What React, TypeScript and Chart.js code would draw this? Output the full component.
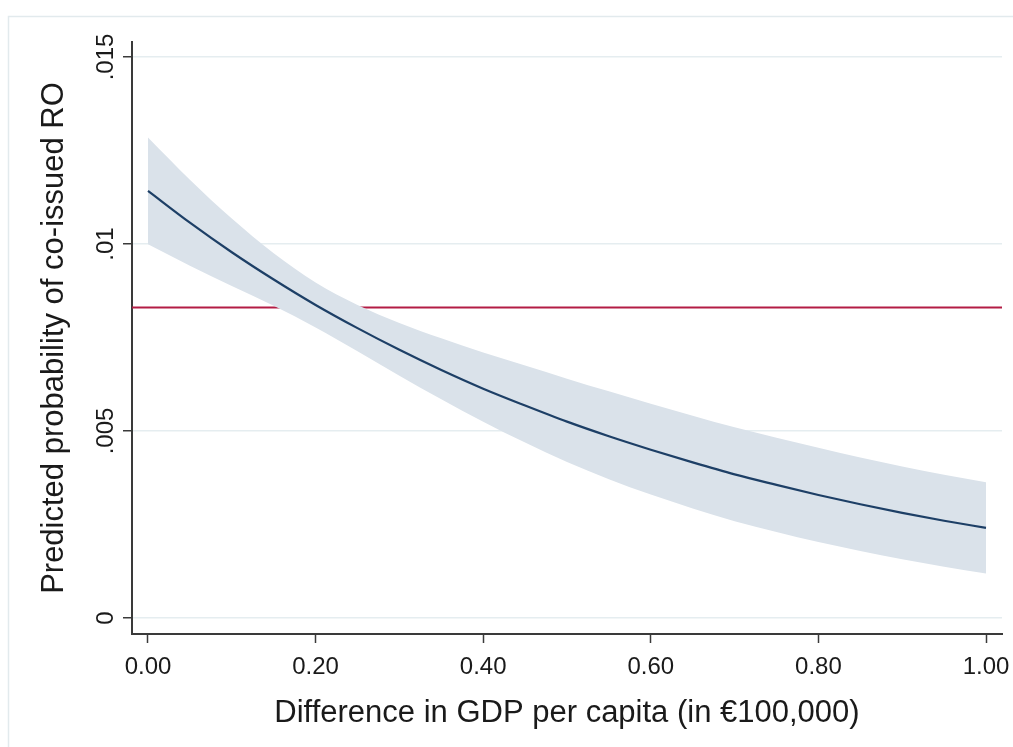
import React, { useEffect, useRef } from "react";
import { Chart, registerables } from "chart.js";

Chart.register(...registerables);

// ---- data ----
const xValues = [0, 0.05, 0.1, 0.15, 0.2, 0.25, 0.3, 0.35, 0.4, 0.45, 0.5, 0.55, 0.6, 0.65, 0.7, 0.75, 0.8, 0.85, 0.9, 0.95, 1.0];
const predicted = [0.01142, 0.01057, 0.00978, 0.00905, 0.00837, 0.00775, 0.00717, 0.00663, 0.00613, 0.00568, 0.00525, 0.00486, 0.0045, 0.00416, 0.00384, 0.00356, 0.00329, 0.00304, 0.00281, 0.0026, 0.00241];
const ciUpper = [0.01285, 0.01172, 0.01068, 0.00975, 0.00897, 0.00837, 0.00789, 0.00748, 0.0071, 0.00675, 0.0064, 0.00606, 0.00573, 0.00541, 0.0051, 0.00482, 0.00455, 0.00429, 0.00405, 0.00383, 0.00363];
const ciLower = [0.00999, 0.00942, 0.00888, 0.00835, 0.00777, 0.00713, 0.00648, 0.00585, 0.00525, 0.00469, 0.00417, 0.00371, 0.0033, 0.00293, 0.00259, 0.0023, 0.00203, 0.00179, 0.00157, 0.00137, 0.00119];
const referenceLevel = 0.0083;

const xTickValues = [0, 0.2, 0.4, 0.6, 0.8, 1.0];
const xTickLabels = ["0.00", "0.20", "0.40", "0.60", "0.80", "1.00"];
const yTickValues = [0, 0.005, 0.01, 0.015];
const yTickLabels = ["0", ".005", ".01", ".015"];

const xTitle = "Difference in GDP per capita (in €100,000)";
const yTitle = "Predicted probability of co-issued RO";

const X_MIN = -0.01909;
const X_MAX = 1.01909;
const Y_MIN = -0.000428;
const Y_MAX = 0.015401;

const FONT = "'Liberation Sans', Arial, Helvetica, sans-serif";

export default function App() {
  const canvasRef = useRef<HTMLCanvasElement | null>(null);

  useEffect(() => {
    const canvas = canvasRef.current;
    if (!canvas) return;

    const outerFrame = {
      id: "outerFrame",
      beforeDraw(chart: any) {
        const ctx = chart.ctx;
        ctx.save();
        ctx.fillStyle = "#ffffff";
        ctx.fillRect(0, 0, chart.width, chart.height);
        ctx.strokeStyle = "#e2eaed";
        ctx.lineWidth = 1.5;
        ctx.strokeRect(8.5, 16.5, chart.width + 50, chart.height + 50);
        ctx.restore();
      },
    };

    const yLabels = {
      id: "yLabels",
      afterDraw(chart: any) {
        const ctx = chart.ctx;
        const ys = chart.scales.y;
        const left = chart.chartArea.left;
        ctx.save();
        ctx.fillStyle = "#1a1a1a";
        ctx.font = `24px ${FONT}`;
        ctx.textAlign = "center";
        ctx.textBaseline = "alphabetic";
        yTickValues.forEach((v, i) => {
          const py = ys.getPixelForValue(v);
          ctx.save();
          ctx.translate(left - 19, py);
          ctx.rotate(-Math.PI / 2);
          ctx.fillText(yTickLabels[i], 0, 0);
          ctx.restore();
        });
        ctx.restore();
      },
    };

    const chart = new Chart(canvas, {
      type: "line",
      data: {
        datasets: [
          {
            label: "Predicted",
            data: xValues.map((x, i) => ({ x, y: predicted[i] })),
            borderColor: "#1d3f66",
            borderWidth: 2.2,
            pointRadius: 0,
            fill: false,
            cubicInterpolationMode: "monotone",
            order: 1,
          },
          {
            label: "Upper",
            data: xValues.map((x, i) => ({ x, y: ciUpper[i] })),
            borderColor: "rgba(0,0,0,0)",
            borderWidth: 0,
            backgroundColor: "#dae2ea",
            pointRadius: 0,
            fill: "+1",
            cubicInterpolationMode: "monotone",
            order: 2,
          },
          {
            label: "Lower",
            data: xValues.map((x, i) => ({ x, y: ciLower[i] })),
            borderColor: "rgba(0,0,0,0)",
            borderWidth: 0,
            pointRadius: 0,
            fill: false,
            cubicInterpolationMode: "monotone",
            order: 3,
          },
          {
            label: "Reference",
            data: [
              { x: X_MIN, y: referenceLevel },
              { x: X_MAX, y: referenceLevel },
            ],
            borderColor: "#b31c45",
            borderWidth: 2,
            pointRadius: 0,
            fill: false,
            order: 4,
          },
        ],
      },
      options: {
        animation: false,
        responsive: false,
        maintainAspectRatio: false,
        devicePixelRatio: 1,
        layout: { padding: { left: 0, right: 11, top: 42, bottom: 0 } },
        plugins: {
          legend: { display: false },
          tooltip: { enabled: false },
        },
        scales: {
          x: {
            type: "linear",
            min: X_MIN,
            max: X_MAX,
            afterBuildTicks: (scale: any) => {
              scale.ticks = xTickValues.map((v) => ({ value: v }));
            },
            afterFit: (scale: any) => {
              scale.height = 113;
              scale.paddingLeft = 0;
              scale.paddingRight = 0;
            },
            ticks: {
              callback: (_v: any, i: number) => xTickLabels[i],
              font: { family: FONT, size: 24 },
              color: "#1a1a1a",
              padding: 10,
              maxRotation: 0,
              minRotation: 0,
              autoSkip: false,
            },
            grid: {
              drawOnChartArea: false,
              drawTicks: true,
              tickLength: 9,
              tickColor: "#3a3a3a",
              tickWidth: 1.5,
            },
            border: { display: true, color: "#3a3a3a", width: 2 },
            title: {
              display: true,
              text: xTitle,
              font: { family: FONT, size: 31 },
              color: "#1a1a1a",
              padding: { top: 0, bottom: 15 },
            },
          },
          y: {
            type: "linear",
            min: Y_MIN,
            max: Y_MAX,
            afterBuildTicks: (scale: any) => {
              scale.ticks = yTickValues.map((v) => ({ value: v }));
            },
            afterFit: (scale: any) => {
              scale.width = 132;
              scale.paddingTop = 0;
              scale.paddingBottom = 0;
            },
            ticks: { display: false },
            grid: {
              color: "#e5edf0",
              lineWidth: 1.5,
              drawTicks: true,
              tickLength: 9,
              tickColor: "#3a3a3a",
              tickWidth: 1.5,
            },
            border: { display: true, color: "#3a3a3a", width: 2 },
            title: {
              display: true,
              text: yTitle,
              font: { family: FONT, size: 31 },
              color: "#1a1a1a",
              padding: { top: 36, bottom: 0 },
            },
          },
        },
      },
      plugins: [outerFrame, yLabels],
    } as any);

    return () => {
      chart.destroy();
    };
  }, []);

  return (
    <div style={{ position: "fixed", left: 0, top: 0, width: 1013, height: 747, background: "#fff" }}>
      <canvas ref={canvasRef} width={1013} height={747} style={{ width: 1013, height: 747, display: "block" }} />
    </div>
  );
}
